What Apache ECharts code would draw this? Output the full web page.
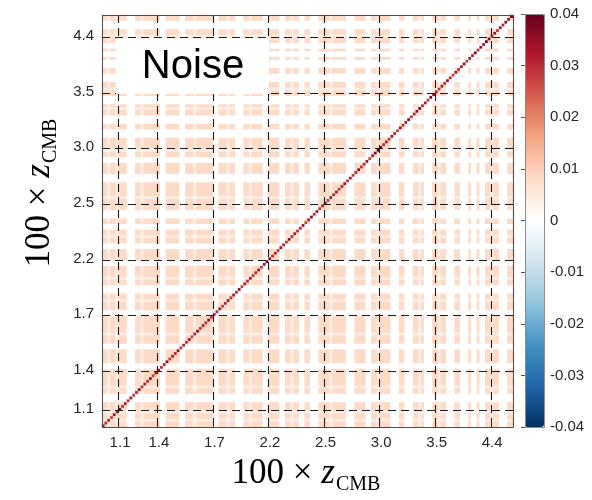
<!DOCTYPE html>
<html>
<head>
<meta charset="utf-8">
<script src="https://cdn.jsdelivr.net/npm/echarts@6.0.0/dist/echarts.min.js"></script>
<style>
  html, body { margin: 0; padding: 0; background: #fff; }
  #chart { width: 592px; height: 500px; }
</style>
</head>
<body>
<div id="chart"></div>
<script>
// number of entries along each side of the matrix
const N = 148
// tick positions (entry index) and their labels, 100 x z_CMB
const tickIdx = [6, 20, 40, 60, 80, 100, 120, 140]
const tickLabels = ['1.1', '1.4', '1.7', '2.2', '2.5', '3.0', '3.5', '4.4']
// colorbar ticks
const barTicks = [-0.04, -0.03, -0.02, -0.01, 0, 0.01, 0.02, 0.03, 0.04]

// weight of each row/column in the off-diagonal block (0 = white stripe)
const stripe = [
  1, 1, 0.5, 1, 1, 0.5, 1, 1, 1, 0, 0, 0, 1, 1, 0.5, 1, 1, 1, 1, 1,
  1, 0, 0, 1, 1, 1, 1, 1, 0, 0, 1, 1, 1, 0.5, 1, 1, 1, 1, 1, 1,
  0, 0, 1, 1, 1, 0.5, 1, 1, 0, 0, 0, 1, 1, 0.5, 1, 1, 1, 1, 0, 0,
  1, 1, 1, 1, 0, 0, 1, 1, 0.5, 1, 1, 0, 0, 1, 1, 0, 0, 0, 1, 1,
  1, 1, 0.5, 1, 1, 1, 1, 1, 0, 0, 0, 1, 1, 1, 1, 0, 0, 1, 1, 0.5,
  1, 1, 1, 1, 0, 0, 0, 1, 1, 0, 0, 0, 1, 1, 0.5, 1, 0, 0, 0, 1,
  1, 0.5, 1, 1, 0, 0, 0, 1, 1, 0, 0, 0, 1, 0, 0, 1, 0, 0, 1, 1,
  0.5, 1, 1, 0, 0, 0, 1, 1
]
// off-diagonal covariance level
const offLevel = 0.008
// diagonal variances
const diag = [
  0.036, 0.030, 0.033, 0.028, 0.035, 0.031, 0.038, 0.029, 0.032, 0.030, 0.034, 0.028, 0.031, 0.036, 0.029, 0.033, 0.030, 0.035, 0.028, 0.032,
  0.034, 0.029, 0.031, 0.036, 0.028, 0.033, 0.030, 0.035, 0.029, 0.032, 0.030, 0.034, 0.028, 0.031, 0.035, 0.029, 0.033, 0.030, 0.036, 0.029,
  0.032, 0.030, 0.034, 0.028, 0.031, 0.035, 0.029, 0.033, 0.030, 0.036, 0.028, 0.032, 0.030, 0.034, 0.029, 0.031, 0.035, 0.028, 0.033, 0.038,
  0.037, 0.030, 0.032, 0.029, 0.034, 0.031, 0.028, 0.035, 0.030, 0.033, 0.029, 0.031, 0.034, 0.028, 0.032, 0.036, 0.030, 0.033, 0.029, 0.031,
  0.035, 0.029, 0.032, 0.030, 0.034, 0.028, 0.031, 0.035, 0.029, 0.033, 0.030, 0.032, 0.036, 0.029, 0.031, 0.034, 0.028, 0.033, 0.037, 0.039,
  0.038, 0.030, 0.032, 0.029, 0.035, 0.031, 0.028, 0.034, 0.030, 0.033, 0.036, 0.029, 0.031, 0.035, 0.038, 0.030, 0.032, 0.029, 0.037, 0.034,
  0.031, 0.030, 0.033, 0.029, 0.035, 0.031, 0.028, 0.034, 0.030, 0.032, 0.036, 0.029, 0.033, 0.031, 0.038, 0.030, 0.035, 0.032, 0.039, 0.036,
  0.030, 0.033, 0.029, 0.035, 0.031, 0.037, 0.033, 0.038
]

// red-blue colormap
const colors = ['#053061', '#2166ac', '#4393c3', '#92c5de', '#d1e5f0', '#ffffff',
  '#fddbc7', '#f4a582', '#d6604d', '#b2182b', '#67001f']

var cats = []
for (let i = 0; i < N; i++) cats.push(String(i))

var data = []
for (let i = 0; i < N; i++) {
  for (let j = 0; j < N; j++) {
    let v = i === j ? diag[i] : offLevel * stripe[i] * stripe[j]
    data.push([i, j, v])
  }
}

const isTick = (index) => tickIdx.indexOf(index) >= 0
const labelOf = (value, index) => {
  let k = tickIdx.indexOf(index)
  return k >= 0 ? tickLabels[k] : ''
}

const sansFont = 'Liberation Sans'
const serifFont = 'Liberation Serif'
const titleRich = {
  a: { fontFamily: serifFont, fontSize: 35, color: '#1a1a1a', lineHeight: 38 },
  z: { fontFamily: serifFont, fontSize: 35, fontStyle: 'italic', color: '#1a1a1a', lineHeight: 38 },
  s: { fontFamily: serifFont, fontSize: 20, color: '#1a1a1a', lineHeight: 20, padding: [22, 0, 0, 1] }
}

var catAxis = (pos) => ({
  type: 'category',
  data: cats,
  position: pos,
  z: 5,
  axisLine: { show: false },
  axisTick: {
    show: true, inside: true, length: 5, interval: isTick,
    lineStyle: { color: '#262626', width: 1 }
  },
  axisLabel: {
    interval: isTick, formatter: labelOf, margin: 8,
    fontFamily: sansFont, fontSize: 15, color: '#262626'
  },
  splitLine: {
    show: true, interval: isTick,
    lineStyle: { color: '#1a1a1a', width: 1.1, type: [8, 5] }
  }
})

var chart = echarts.init(document.getElementById('chart'), null, { renderer: 'canvas' })
var option = {
  animation: false,
  backgroundColor: '#fff',
  grid: [
    { left: 102, top: 15, width: 411, height: 412 },
    { left: 525, top: 14, width: 19, height: 413 }
  ],
  xAxis: [
    Object.assign(catAxis('bottom'), { gridIndex: 0 }),
    { gridIndex: 1, type: 'value', show: false, min: 0, max: 1 }
  ],
  yAxis: [
    Object.assign(catAxis('left'), { gridIndex: 0 }),
    {
      gridIndex: 1, type: 'value', position: 'right',
      min: -0.04, max: 0.04, interval: 0.01, z: 10,
      axisLine: { show: false },
      axisTick: { show: true, inside: true, length: 4, lineStyle: { color: '#555' } },
      splitLine: { show: false },
      axisLabel: {
        margin: 6, fontFamily: sansFont, fontSize: 15, color: '#262626',
        formatter: (v) => Math.abs(v) < 1e-9 ? '0' : v.toFixed(2)
      }
    }
  ],
  visualMap: {
    type: 'continuous',
    seriesIndex: 0,
    dimension: 2,
    min: barTicks[0],
    max: barTicks[barTicks.length - 1],
    calculable: false,
    orient: 'vertical',
    left: 525,
    top: 14,
    padding: 0,
    itemWidth: 19,
    itemHeight: 413,
    inRange: { color: colors }
  },
  series: [
    {
      type: 'heatmap',
      xAxisIndex: 0,
      yAxisIndex: 0,
      data: data,
      progressive: 0,
      emphasis: { disabled: true },
      silent: true
    }
  ],
  graphic: [
    {
      type: 'rect', z: 100,
      shape: { x: 102.5, y: 15.5, width: 411, height: 412 },
      style: { fill: 'none', stroke: '#4d4d4d', lineWidth: 1 }
    },
    {
      type: 'rect', z: 100,
      shape: { x: 525.5, y: 14.5, width: 19, height: 413 },
      style: { fill: 'none', stroke: '#8c8c8c', lineWidth: 1 }
    },
    {
      type: 'rect', z: 101,
      shape: { x: 116, y: 38, width: 153, height: 56 },
      style: { fill: '#fff' }
    },
    {
      type: 'text', z: 102, x: 193, y: 67,
      style: {
        text: 'Noise', fontFamily: sansFont, fontSize: 40, fill: '#000',
        align: 'center', verticalAlign: 'middle'
      }
    },
    {
      type: 'text', z: 102, x: 306, y: 474,
      style: {
        text: '{a|100 × }{z|z}{s|CMB}', rich: titleRich,
        align: 'center', verticalAlign: 'middle'
      }
    },
    {
      type: 'text', z: 102, x: 40, y: 193, rotation: Math.PI / 2,
      style: {
        text: '{a|100 × }{z|z}{s|CMB}', rich: titleRich,
        align: 'center', verticalAlign: 'middle'
      }
    }
  ]
}
chart.setOption(option)
</script>
</body>
</html>
